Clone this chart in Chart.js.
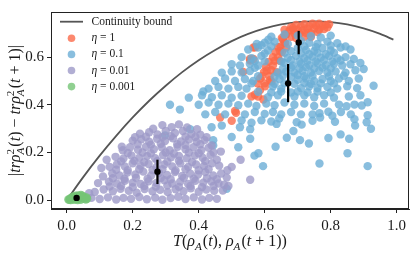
<!DOCTYPE html>
<html>
<head>
<meta charset="utf-8">
<script src="https://cdn.jsdelivr.net/npm/chart.js@4.4.0/dist/chart.umd.min.js"></script>
<style>
    html, body { margin: 0; padding: 0; background: #fff; }
    canvas { display: block; }
</style>
</head>
<body>
<canvas id="scatterChart" width="416" height="254"></canvas>
<script>
const serif = "'Liberation Serif', 'DejaVu Serif', serif";

// continuity bound
const boundT = [0, 0.05, 0.1, 0.15, 0.2, 0.25, 0.3, 0.35, 0.4, 0.45, 0.5, 0.55, 0.6, 0.65, 0.7, 0.75, 0.8, 0.85, 0.9, 0.95, 0.99];
const boundVal = [0, 0.097, 0.187, 0.27, 0.347, 0.417, 0.48, 0.537, 0.587, 0.63, 0.667, 0.697, 0.72, 0.737, 0.747, 0.75, 0.747, 0.737, 0.72, 0.697, 0.673];

const xTicks = [0, 0.2, 0.4, 0.6, 0.8, 1.0];
const yTicks = [0, 0.2, 0.4, 0.6];

const etaLabels = ['1', '0.1', '0.01', '0.001'];

// mean and spread per eta (black markers with error bars)
const meanX = [0.703, 0.671, 0.275, 0.03];
const meanY = [0.661, 0.49, 0.12, 0.01];
const errLo = [0.612, 0.411, 0.068, 0.006];
const errHi = [0.71, 0.571, 0.17, 0.014];

// eta = 1
const redPts = [
    [0.68,0.725],[0.695,0.735],[0.71,0.728],[0.72,0.738],[0.735,0.73],[0.745,0.74],[0.755,0.732],[0.765,0.74],
    [0.775,0.73],[0.785,0.735],[0.79,0.725],[0.7,0.715],[0.715,0.712],[0.73,0.718],[0.75,0.72],[0.765,0.715],
    [0.78,0.718],[0.69,0.7],[0.705,0.698],[0.725,0.702],[0.74,0.7],[0.76,0.705],[0.675,0.712],[0.665,0.695],
    [0.68,0.685],[0.695,0.68],[0.72,0.685],[0.74,0.684],[0.795,0.738],[0.66,0.715],
    [0.655,0.675],[0.66,0.66],[0.648,0.645],[0.665,0.64],[0.652,0.62],[0.64,0.6],[0.63,0.585],[0.645,0.585],
    [0.625,0.565],[0.62,0.545],[0.606,0.544],[0.615,0.52],[0.616,0.503],[0.6,0.49],[0.621,0.498],[0.586,0.462],
    [0.596,0.422],[0.57,0.442],[0.56,0.435],[0.566,0.592],[0.555,0.592],[0.535,0.538],[0.566,0.64],[0.513,0.367],
    [0.5,0.333],[0.465,0.347],[0.51,0.374],[0.586,0.51],[0.58,0.435],[0.636,0.537],[0.646,0.626],[0.662,0.66],
    [0.652,0.68],[0.687,0.714],
    [0.641,0.641],[0.632,0.622],[0.625,0.6],[0.612,0.58],[0.604,0.56],[0.598,0.538],[0.592,0.52],[0.601,0.478],
    [0.578,0.49],[0.571,0.641],[0.556,0.586],[0.662,0.694],[0.686,0.722]
];

// eta = 0.1
const bluePts = [
    [0.62,0.685],[0.66,0.695],[0.7,0.69],[0.74,0.688],[0.77,0.682],[0.8,0.69],
    [0.6,0.66],[0.63,0.665],[0.67,0.655],[0.71,0.668],[0.735,0.66],[0.76,0.655],[0.79,0.665],[0.82,0.658],[0.845,0.645],
    [0.55,0.632],[0.58,0.64],[0.61,0.628],[0.68,0.625],[0.7,0.638],[0.725,0.63],[0.75,0.625],[0.775,0.638],
    [0.8,0.628],[0.83,0.64],[0.86,0.632],
    [0.53,0.6],[0.56,0.595],[0.59,0.605],[0.67,0.596],[0.695,0.605],[0.72,0.595],[0.745,0.602],
    [0.77,0.598],[0.795,0.605],[0.82,0.595],[0.845,0.6],[0.87,0.592],
    [0.5,0.57],[0.525,0.565],[0.555,0.572],[0.58,0.565],[0.66,0.575],[0.685,0.565],[0.71,0.572],
    [0.735,0.566],[0.76,0.574],[0.785,0.566],[0.81,0.572],[0.835,0.565],[0.86,0.57],[0.89,0.575],
    [0.47,0.535],[0.5,0.54],[0.53,0.535],[0.555,0.542],[0.64,0.535],[0.665,0.54],[0.69,0.535],
    [0.715,0.542],[0.74,0.535],[0.765,0.542],[0.79,0.535],[0.815,0.54],[0.845,0.535],[0.875,0.545],[0.9,0.55],
    [0.45,0.5],[0.48,0.51],[0.51,0.5],[0.54,0.508],[0.565,0.5],[0.645,0.508],[0.7,0.505],
    [0.725,0.51],[0.75,0.5],[0.775,0.508],[0.8,0.5],[0.825,0.51],[0.855,0.5],[0.885,0.51],
    [0.43,0.468],[0.46,0.475],[0.49,0.468],[0.52,0.475],[0.545,0.468],[0.625,0.478],[0.65,0.468],
    [0.71,0.47],[0.735,0.478],[0.76,0.47],[0.79,0.475],[0.82,0.468],[0.85,0.478],[0.88,0.47],[0.93,0.48],
    [0.37,0.43],[0.41,0.44],[0.44,0.432],[0.47,0.44],[0.5,0.43],[0.53,0.438],[0.61,0.432],
    [0.64,0.44],[0.69,0.435],[0.72,0.44],[0.75,0.432],[0.78,0.44],[0.81,0.43],[0.855,0.435],[0.89,0.44],
    [0.313,0.4],[0.343,0.38],[0.4,0.4],[0.43,0.41],[0.46,0.4],[0.49,0.405],[0.52,0.398],[0.55,0.405],[0.575,0.395],
    [0.605,0.405],[0.63,0.398],[0.66,0.41],[0.69,0.4],[0.72,0.405],[0.75,0.395],[0.78,0.405],[0.825,0.401],[0.848,0.394],
    [0.872,0.401],[0.894,0.397],[0.912,0.411],
    [0.42,0.36],[0.45,0.37],[0.48,0.36],[0.54,0.36],[0.57,0.37],[0.6,0.362],[0.625,0.37],[0.65,0.36],[0.68,0.37],
    [0.71,0.36],[0.745,0.36],[0.766,0.365],[0.793,0.371],[0.831,0.37],[0.861,0.36],[0.912,0.356],
    [0.439,0.306],[0.47,0.313],[0.53,0.335],[0.56,0.325],[0.59,0.335],[0.62,0.33],[0.644,0.343],[0.697,0.327],
    [0.745,0.333],[0.768,0.347],[0.805,0.354],[0.813,0.329],[0.872,0.34],[0.909,0.327],
    [0.374,0.298],[0.525,0.306],[0.556,0.298],[0.636,0.32],[0.687,0.29],[0.712,0.317],[0.874,0.313],[0.922,0.3],
    [0.298,0.272],[0.444,0.252],[0.5,0.265],[0.556,0.258],[0.667,0.262],[0.707,0.252],[0.734,0.238],[0.793,0.261],
    [0.83,0.276],[0.856,0.258],
    [0.444,0.23],[0.52,0.222],[0.633,0.224],[0.581,0.197],[0.569,0.187],[0.851,0.197],[0.595,0.143],[0.766,0.154],
    [0.912,0.143],[0.485,0.048],
    [0.62,0.645],[0.72,0.645],[0.755,0.642],[0.8,0.648],
    [0.6,0.615],[0.66,0.618],[0.71,0.615],[0.735,0.612],[0.76,0.618],[0.785,0.612],[0.81,0.618],
    [0.57,0.585],[0.6,0.582],[0.65,0.582],[0.68,0.588],[0.705,0.582],[0.73,0.586],[0.755,0.582],
    [0.78,0.588],[0.805,0.582],[0.83,0.586],
    [0.57,0.555],[0.655,0.552],[0.68,0.556],[0.705,0.552],[0.725,0.558],[0.75,0.552],
    [0.775,0.556],[0.8,0.552],
    [0.58,0.52],[0.63,0.518],[0.655,0.522],[0.68,0.518],[0.7,0.525],[0.72,0.52],[0.745,0.522],
    [0.795,0.52],[0.84,0.522],
    [0.56,0.49],[0.63,0.488],[0.66,0.49],[0.69,0.488],[0.72,0.492],[0.74,0.488],
    [0.77,0.49],[0.81,0.49],
    [0.58,0.455],[0.62,0.452],[0.65,0.456],[0.68,0.452],[0.7,0.456],[0.73,0.452],[0.76,0.456],[0.8,0.452],
    [0.414,0.456],[0.576,0.655],[0.611,0.673],[0.59,0.65]
];

// eta = 0.01
const purplePts = [
    [0.075,0.01],[0.1,0.005],[0.125,0.012],[0.15,0.003],[0.172,0.01],[0.195,0.006],[0.22,0.014],[0.243,0.004],
    [0.268,0.011],[0.29,0.002],[0.315,0.009],[0.338,0.015],[0.36,0.005],[0.385,0.012],[0.41,0.003],[0.432,0.01],[0.455,0.006],
    [0.085,0.035],[0.112,0.045],[0.14,0.038],[0.163,0.048],[0.188,0.04],[0.212,0.032],[0.236,0.047],[0.26,0.038],
    [0.283,0.044],[0.306,0.034],[0.33,0.046],[0.354,0.038],[0.376,0.05],[0.4,0.036],[0.423,0.045],[0.447,0.04],[0.473,0.041],
    [0.095,0.072],[0.128,0.078],[0.152,0.07],[0.176,0.082],[0.2,0.074],[0.224,0.068],[0.248,0.08],[0.272,0.073],
    [0.296,0.084],[0.32,0.07],[0.344,0.078],[0.368,0.068],[0.39,0.082],[0.414,0.074],[0.438,0.08],[0.46,0.07],[0.477,0.065],
    [0.11,0.1],[0.138,0.112],[0.16,0.104],[0.184,0.116],[0.208,0.108],[0.232,0.12],[0.256,0.104],[0.28,0.114],
    [0.304,0.106],[0.328,0.118],[0.35,0.102],[0.374,0.112],[0.398,0.108],[0.42,0.118],[0.444,0.104],[0.468,0.112],[0.485,0.095],
    [0.13,0.14],[0.152,0.15],[0.176,0.142],[0.2,0.155],[0.224,0.145],[0.248,0.152],[0.272,0.138],[0.296,0.15],
    [0.32,0.142],[0.344,0.155],[0.368,0.14],[0.392,0.15],[0.416,0.144],[0.44,0.155],[0.462,0.145],[0.487,0.126],
    [0.148,0.182],[0.172,0.175],[0.196,0.188],[0.22,0.178],[0.244,0.185],[0.268,0.176],[0.292,0.19],[0.316,0.18],
    [0.34,0.186],[0.364,0.176],[0.388,0.188],[0.412,0.178],[0.436,0.19],[0.455,0.17],
    [0.17,0.21],[0.192,0.222],[0.216,0.212],[0.24,0.224],[0.264,0.214],[0.288,0.222],[0.312,0.21],[0.336,0.224],
    [0.36,0.214],[0.384,0.222],[0.408,0.21],[0.43,0.22],[0.467,0.204],
    [0.2,0.25],[0.226,0.256],[0.25,0.245],[0.274,0.258],[0.298,0.248],[0.322,0.26],[0.346,0.246],[0.37,0.255],
    [0.394,0.245],[0.418,0.252],[0.439,0.23],
    [0.222,0.279],[0.25,0.285],[0.275,0.276],[0.3,0.29],[0.328,0.282],[0.352,0.29],[0.378,0.278],[0.405,0.275],[0.424,0.264],
    [0.262,0.3],[0.29,0.315],[0.318,0.306],[0.34,0.318],[0.365,0.305],[0.395,0.298],
    [0.105,0.135],[0.121,0.17],[0.167,0.224],[0.207,0.264],[0.068,0.03],
    [0.527,0.17],[0.556,0.086],[0.5,0.14],[0.49,0.06],
    [0.13,0.058],[0.165,0.06],[0.2,0.055],[0.235,0.06],[0.27,0.057],[0.305,0.062],[0.34,0.056],[0.375,0.06],[0.41,0.055],[0.445,0.06],
    [0.14,0.092],[0.175,0.09],[0.21,0.094],[0.245,0.09],[0.285,0.093],[0.315,0.088],[0.355,0.094],[0.385,0.09],[0.425,0.092],[0.455,0.088],
    [0.15,0.128],[0.185,0.126],[0.22,0.13],[0.26,0.127],[0.29,0.13],[0.33,0.125],[0.36,0.13],[0.4,0.126],[0.43,0.13],
    [0.165,0.163],[0.205,0.165],[0.235,0.16],[0.275,0.165],[0.305,0.162],[0.34,0.166],[0.38,0.16],[0.42,0.164],
    [0.185,0.198],[0.23,0.2],[0.255,0.197],[0.3,0.2],[0.325,0.196],[0.37,0.2],[0.4,0.197],[0.445,0.2],
    [0.215,0.235],[0.255,0.233],[0.285,0.237],[0.335,0.235],[0.36,0.232],[0.405,0.235],
    [0.24,0.266],[0.29,0.265],[0.315,0.268],[0.36,0.266],[0.39,0.265]
];

// eta = 0.001
const greenPts = [
    [0.005,0.003],[0.01,0.007],[0.012,0.001],[0.015,0.012],[0.018,0.005],[0.02,0.016],[0.022,0.002],[0.025,0.01],
    [0.027,0.019],[0.03,0.004],[0.032,0.014],[0.035,0.02],[0.037,0.008],[0.04,0.016],[0.042,0.002],[0.045,0.012],
    [0.047,0.019],[0.05,0.006],[0.052,0.015],[0.055,0.009],[0.058,0.003],[0.06,0.012],[0.028,0.011],[0.033,0.001],
    [0.043,0.022],[0.062,0.006],[0.008,0.002]
];

const etaColors = ['rgba(251,106,74,0.8)', 'rgba(107,174,214,0.8)', 'rgba(158,154,200,0.8)', 'rgba(116,196,118,0.8)'];
const boundColor = '#555555';
const textColor = '#1a1a1a';

function toXY(pts) {
    return pts.map(p => ({ x: p[0], y: p[1] }));
}

// draw a run of math-ish text; parts: {t, i} or {sub} or {sup, sub}
function drawParts(ctx, parts, x, y, size, dry) {
    let cx = x;
    parts.forEach(p => {
        if (p.t !== undefined) {
            ctx.font = (p.i ? 'italic ' : '') + size + 'px ' + serif;
            if (!dry) ctx.fillText(p.t, cx, y);
            cx += ctx.measureText(p.t).width;
        } else {
            const s = size * 0.7;
            let w = 0;
            if (p.sup) {
                ctx.font = s + 'px ' + serif;
                if (!dry) ctx.fillText(p.sup, cx, y - size * 0.38);
                w = ctx.measureText(p.sup).width;
            }
            ctx.font = 'italic ' + s + 'px ' + serif;
            if (!dry) ctx.fillText(p.sub, cx, y + size * 0.22);
            w = Math.max(w, ctx.measureText(p.sub).width);
            cx += w + 1;
        }
    });
    return cx - x;
}

const xTitle = [{ t: 'T', i: 1 }, { t: '(' }, { t: 'ρ', i: 1 }, { sub: 'A' }, { t: '(' }, { t: 't', i: 1 }, { t: '), ' },
    { t: 'ρ', i: 1 }, { sub: 'A' }, { t: '(' }, { t: 't', i: 1 }, { t: ' + 1))' }];
const yTitle = [{ t: '|' }, { t: 'tr', i: 1 }, { t: 'ρ', i: 1 }, { sup: '2', sub: 'A' }, { t: '(' }, { t: 't', i: 1 }, { t: ') − ' },
    { t: 'tr', i: 1 }, { t: 'ρ', i: 1 }, { sup: '2', sub: 'A' }, { t: '(' }, { t: 't', i: 1 }, { t: ' + 1)|' }];

const decorPlugin = {
    id: 'decor',
    afterDraw(chart) {
        const ctx = chart.ctx;
        const a = chart.chartArea;
        ctx.save();

        // frame on all four sides
        ctx.strokeStyle = '#222';
        ctx.lineWidth = 1;
        ctx.strokeRect(a.left + 0.5, a.top + 0.5, a.right - a.left - 1, a.bottom - a.top - 1);

        ctx.fillStyle = textColor;
        ctx.textBaseline = 'alphabetic';

        // x title
        const size = 16;
        const wx = drawParts(ctx, xTitle, 0, 0, size, true);
        drawParts(ctx, xTitle, (a.left + a.right) / 2 - wx / 2, 246, size);

        // y title, rotated
        const wy = drawParts(ctx, yTitle, 0, 0, size, true);
        ctx.save();
        ctx.translate(20, (a.top + a.bottom) / 2);
        ctx.rotate(-Math.PI / 2);
        drawParts(ctx, yTitle, -wy / 2, 0, size);
        ctx.restore();

        // legend
        ctx.textBaseline = 'middle';
        ctx.strokeStyle = boundColor;
        ctx.lineWidth = 1.8;
        ctx.beginPath();
        ctx.moveTo(60, 21.7);
        ctx.lineTo(83, 21.7);
        ctx.stroke();
        ctx.fillStyle = textColor;
        ctx.font = '11.5px ' + serif;
        ctx.fillText('Continuity bound', 91.5, 21.7);
        etaLabels.forEach((lab, i) => {
            const ly = 38.3 + i * 16.1;
            ctx.fillStyle = etaColors[i];
            ctx.beginPath();
            ctx.arc(71.5, ly, 3.8, 0, Math.PI * 2);
            ctx.fill();
            ctx.fillStyle = textColor;
            drawParts(ctx, [{ t: 'η', i: 1 }, { t: ' = ' + lab }], 91.5, ly, 11.5);
        });
        ctx.restore();
    }
};

function scatterSet(label, pts, color) {
    return {
        label: label,
        data: toXY(pts),
        backgroundColor: color,
        borderWidth: 0,
        pointRadius: 4.2,
        pointHoverRadius: 4.2
    };
}

// first dataset is drawn on top in Chart.js
const datasets = [];
datasets.push({
    label: 'means',
    data: meanX.map((x, i) => ({ x: x, y: meanY[i] })),
    backgroundColor: '#000',
    borderWidth: 0,
    pointRadius: 3.2
});
meanX.forEach((x, i) => {
    datasets.push({
        label: 'err' + i,
        data: [{ x: x, y: errLo[i] }, { x: x, y: errHi[i] }],
        showLine: true,
        borderColor: '#000',
        borderWidth: 2.2,
        pointRadius: 0
    });
});
datasets.push(scatterSet('η = 0.001', greenPts, etaColors[3]));
datasets.push(scatterSet('η = 0.01', purplePts, etaColors[2]));
datasets.push(scatterSet('η = 0.1', bluePts, etaColors[1]));
datasets.push(scatterSet('η = 1', redPts, etaColors[0]));
datasets.push({
    label: 'Continuity bound',
    data: boundT.map((t, i) => ({ x: t, y: boundVal[i] })),
    showLine: true,
    borderColor: boundColor,
    borderWidth: 1.8,
    pointRadius: 0,
    tension: 0.3
});

const tickFont = { family: serif, size: 15 };

new Chart(document.getElementById('scatterChart'), {
    type: 'scatter',
    data: { datasets: datasets },
    options: {
        responsive: false,
        animation: false,
        devicePixelRatio: 1,
        layout: { padding: { top: 6, right: 7, left: 0, bottom: 0 } },
        plugins: {
            legend: { display: false },
            tooltip: { enabled: false }
        },
        scales: {
            x: {
                type: 'linear',
                min: -0.0476,
                max: 1.0373,
                afterBuildTicks: ax => { ax.ticks = xTicks.map(v => ({ value: v })); },
                afterFit: ax => { ax.height = 45; },
                ticks: { callback: v => v.toFixed(1), font: tickFont, color: textColor, padding: 4, maxRotation: 0, autoSkip: false },
                grid: { drawOnChartArea: false, tickLength: 4, color: '#222' },
                border: { display: true, color: '#222', width: 1 }
            },
            y: {
                type: 'linear',
                min: -0.0366,
                max: 0.789,
                afterBuildTicks: ax => { ax.ticks = yTicks.map(v => ({ value: v })); },
                afterFit: ax => { ax.width = 51; },
                ticks: { callback: v => v.toFixed(1), font: tickFont, color: textColor, padding: 3, autoSkip: false },
                grid: { drawOnChartArea: false, tickLength: 4, color: '#222' },
                border: { display: true, color: '#222', width: 1 }
            }
        }
    },
    plugins: [decorPlugin]
});
</script>
</body>
</html>
